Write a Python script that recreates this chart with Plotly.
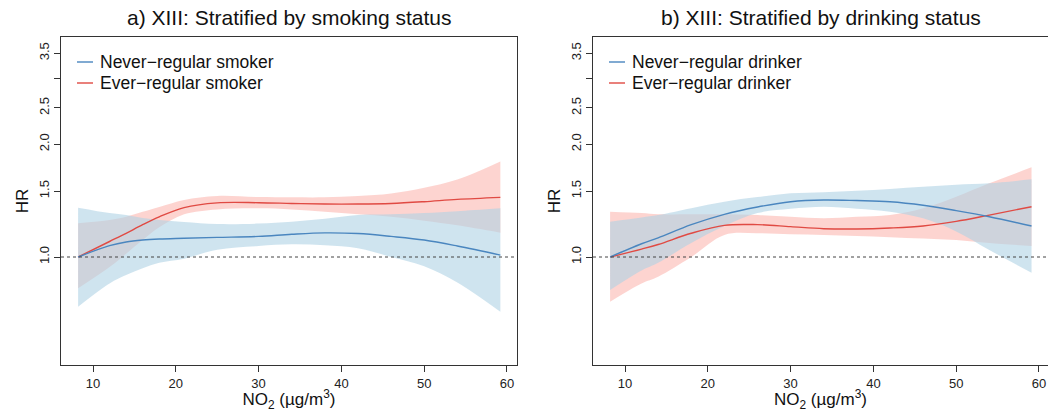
import plotly.graph_objects as go

# ---------------- data ----------------
x_smoke = [8.2, 12, 14, 16, 18, 21, 25, 30, 34, 38, 42, 46, 50, 54, 59.2]
never_smoker_hr = [1.0, 1.072, 1.097, 1.11, 1.117, 1.122, 1.128, 1.135, 1.15, 1.16, 1.155, 1.135, 1.11, 1.07, 1.012]
never_smoker_lo = [0.737, 0.85, 0.895, 0.933, 0.965, 0.99, 1.045, 1.07, 1.081, 1.075, 1.055, 1.0, 0.945, 0.855, 0.714]
never_smoker_hi = [1.354, 1.31, 1.294, 1.27, 1.255, 1.24, 1.225, 1.228, 1.242, 1.265, 1.294, 1.30, 1.31, 1.325, 1.349]
ever_smoker_hr = [1.0, 1.10, 1.157, 1.22, 1.28, 1.355, 1.395, 1.396, 1.39, 1.385, 1.385, 1.39, 1.405, 1.425, 1.443]
ever_smoker_lo = [0.825, 0.94, 1.02, 1.11, 1.2, 1.3, 1.34, 1.349, 1.34, 1.321, 1.30, 1.281, 1.25, 1.215, 1.161]
ever_smoker_hi = [1.23, 1.255, 1.28, 1.32, 1.36, 1.42, 1.455, 1.445, 1.443, 1.443, 1.455, 1.478, 1.53, 1.61, 1.80]

x_drink = [8.2, 12, 14, 18, 22, 26, 30, 34, 38, 42, 46, 50, 54, 59.1]
never_drinker_hr = [1.0, 1.085, 1.125, 1.22, 1.3, 1.36, 1.405, 1.42, 1.415, 1.405, 1.375, 1.33, 1.281, 1.21]
never_drinker_lo = [0.816, 0.92, 0.965, 1.09, 1.21, 1.31, 1.345, 1.362, 1.345, 1.321, 1.268, 1.17, 1.044, 0.908]
never_drinker_hi = [1.242, 1.275, 1.294, 1.35, 1.405, 1.445, 1.479, 1.49, 1.503, 1.52, 1.541, 1.56, 1.573, 1.612]
ever_drinker_hr = [1.0, 1.05, 1.08, 1.157, 1.215, 1.22, 1.205, 1.19, 1.188, 1.195, 1.21, 1.245, 1.294, 1.362]
ever_drinker_lo = [0.76, 0.85, 0.886, 1.0, 1.145, 1.157, 1.15, 1.145, 1.137, 1.129, 1.12, 1.11, 1.09, 1.07]
ever_drinker_hi = [1.321, 1.31, 1.30, 1.30, 1.30, 1.294, 1.28, 1.268, 1.28, 1.294, 1.349, 1.449, 1.573, 1.735]

titles = ["a) XIII: Stratified by smoking status", "b) XIII: Stratified by drinking status"]
legend_names = [["Never\u2212regular smoker", "Ever\u2212regular smoker"],
                ["Never\u2212regular drinker", "Ever\u2212regular drinker"]]
x_ticks = [10, 20, 30, 40, 50, 60]
y_ticks = [1.0, 1.5, 2.0, 2.5, 3.5]
y_ticktext = ["1.0", "1.5", "2.0", "2.5", "3.5"]
y_unlabelled_ticks = [3.0]

# ---------------- style ----------------
FONT = "Liberation Sans, Arial, sans-serif"
BLUE_LINE = "#4a86bf"
RED_LINE = "#e04a43"
BLUE_FILL = "rgba(175,210,228,0.6)"
RED_FILL = "rgba(250,160,150,0.45)"
AXIS_COL = "#333333"

fig = go.Figure()

panels = [
    (x_smoke, (never_smoker_hr, never_smoker_lo, never_smoker_hi),
     (ever_smoker_hr, ever_smoker_lo, ever_smoker_hi), "x", "y"),
    (x_drink, (never_drinker_hr, never_drinker_lo, never_drinker_hi),
     (ever_drinker_hr, ever_drinker_lo, ever_drinker_hi), "x2", "y2"),
]

for xv, never, ever, xa, ya in panels:
    # bands: red first, blue on top
    for (hr, lo, hi), fc in ((ever, RED_FILL), (never, BLUE_FILL)):
        fig.add_trace(go.Scatter(x=xv, y=hi, mode="lines", line=dict(width=0, shape="spline"),
                                 xaxis=xa, yaxis=ya, showlegend=False, hoverinfo="skip"))
        fig.add_trace(go.Scatter(x=xv, y=lo, mode="lines", line=dict(width=0, shape="spline"),
                                 fill="tonexty", fillcolor=fc,
                                 xaxis=xa, yaxis=ya, showlegend=False, hoverinfo="skip"))
    for (hr, lo, hi), lc in ((ever, RED_LINE), (never, BLUE_LINE)):
        fig.add_trace(go.Scatter(x=xv, y=hr, mode="lines", line=dict(width=1.4, color=lc, shape="spline"),
                                 xaxis=xa, yaxis=ya, showlegend=False))

W, H = 1048, 412
ml, mr, mt, mb = 61, 0, 37, 47
pw = W - ml - mr
dom1 = [0, 456 / pw]
dom2 = [532 / pw, 1]

yr = [-0.2883, 0.5873]

common_x = dict(tickmode="array", tickvals=x_ticks, ticks="outside", ticklen=6, tickcolor=AXIS_COL,
                showline=True, linecolor=AXIS_COL, linewidth=1, showgrid=False, zeroline=False,
                tickfont=dict(family=FONT, size=13, color="#222"),
                title=dict(text="NO<sub>2</sub> (\u00b5g/m<sup>3</sup>)",
                           font=dict(family=FONT, size=17, color="#111"), standoff=2),
                automargin=False)
common_y = dict(type="log", range=yr, tickmode="array", tickvals=y_ticks, ticktext=y_ticktext,
                ticks="outside", ticklen=6, tickcolor=AXIS_COL, tickangle=-90,
                minor=dict(tickmode="array", tickvals=y_unlabelled_ticks, ticks="outside",
                           ticklen=6, tickcolor=AXIS_COL, showgrid=False),
                showline=True, linecolor=AXIS_COL, linewidth=1, showgrid=False, zeroline=False,
                tickfont=dict(family=FONT, size=13, color="#222"),
                title=dict(text="HR", font=dict(family=FONT, size=17, color="#111"), standoff=3),
                automargin=False)

fig.update_layout(
    width=W, height=H, margin=dict(l=ml, r=mr, t=mt, b=mb),
    paper_bgcolor="white", plot_bgcolor="white", showlegend=False,
    xaxis=dict(domain=dom1, range=[6.135, 61.21], anchor="y", mirror=True, **common_x),
    yaxis=dict(anchor="x", mirror=True, **common_y),
    xaxis2=dict(domain=dom2, range=[6.135, 61.09], anchor="y2", mirror=True, **common_x),
    yaxis2=dict(anchor="x2", mirror=False, **common_y),
)

shapes = []
annotations = []
for i, (xa, ya) in enumerate((("x", "y"), ("x2", "y2"))):
    # reference line at HR = 1
    shapes.append(dict(type="line", xref=f"{xa} domain", yref=ya, x0=0, x1=1, y0=1, y1=1,
                       line=dict(color="#444444", width=1, dash="dot")))
    # title
    annotations.append(dict(text=titles[i], xref=f"{xa} domain", yref=f"{ya} domain", x=0.5, y=1,
                            yshift=20, xanchor="center", yanchor="middle", showarrow=False,
                            font=dict(family=FONT, size=21, color="#111")))
    # manual legend
    for j, col in enumerate((BLUE_LINE, RED_LINE)):
        dy = -25 - 21 * j
        shapes.append(dict(type="line", xref=f"{xa} domain", yref=f"{ya} domain",
                           xsizemode="pixel", xanchor=0, x0=16, x1=32,
                           ysizemode="pixel", yanchor=1, y0=dy, y1=dy,
                           line=dict(color=col, width=1.4)))
        annotations.append(dict(text=legend_names[i][j], xref=f"{xa} domain", yref=f"{ya} domain",
                                x=0, y=1, xshift=37, yshift=dy, xanchor="left", yanchor="middle",
                                showarrow=False, font=dict(family=FONT, size=17.5, color="#111")))

fig.update_layout(shapes=shapes, annotations=annotations)
fig.write_html("out.html")
